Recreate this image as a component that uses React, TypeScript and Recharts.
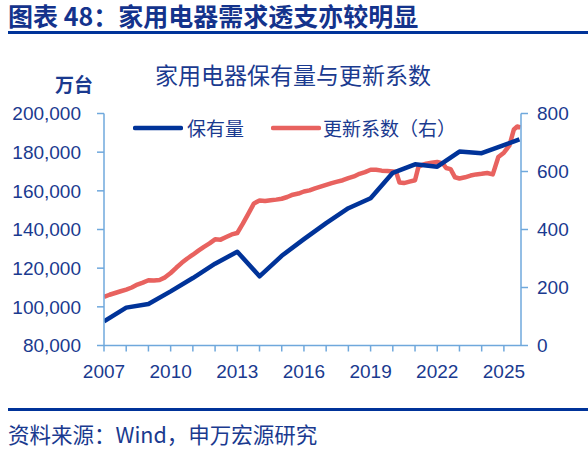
import React from 'react';
import { LineChart, Line, XAxis, YAxis } from 'recharts';

// 保有量 (万台), annual
const stockX = [2007, 2008, 2009, 2010, 2011, 2012, 2013, 2014, 2015, 2016, 2017, 2018, 2019, 2020, 2021, 2022, 2023, 2024, 2025, 2025.7];
const stockValues = [92500, 99600, 101500, 108000, 114900, 122300, 128500, 115800, 126400, 135000, 143300, 151000, 156200, 169300, 173700, 172500, 180300, 179500, 183700, 186600];

// 更新系数 (右轴)
const renewX = [
  2007, 2007.25, 2007.5, 2007.75, 2008, 2008.25, 2008.5, 2008.75,
  2009, 2009.25, 2009.5, 2009.75, 2010, 2010.25, 2010.5, 2010.75,
  2011, 2011.25, 2011.5, 2011.75, 2012, 2012.25, 2012.5, 2012.75,
  2013, 2013.25, 2013.5, 2013.75, 2014, 2014.25, 2014.5, 2014.75,
  2015, 2015.25, 2015.5, 2015.75, 2016, 2016.25, 2016.5, 2016.75,
  2017, 2017.25, 2017.5, 2017.75, 2018, 2018.25, 2018.5, 2018.75,
  2019, 2019.25, 2019.5, 2019.75, 2020, 2020.15, 2020.3, 2020.5, 2020.75,
  2021, 2021.15, 2021.3, 2021.5, 2021.75, 2022, 2022.25, 2022.4, 2022.6, 2022.8,
  2023, 2023.25, 2023.5, 2023.75, 2024, 2024.25, 2024.5, 2024.75,
  2025, 2025.25, 2025.45, 2025.6, 2025.75,
];
const renewValues = [
  168, 175, 181, 187, 193, 200, 210, 217,
  225, 224, 226, 235, 250, 268, 285, 300,
  313, 327, 340, 352, 366, 365, 374, 383,
  388, 420, 455, 490, 500, 498, 501, 503,
  506, 512, 520, 524, 531, 535, 542, 548,
  554, 560, 565, 570, 577, 583, 592, 598,
  606, 606, 603, 602, 600, 598, 562, 560, 565,
  570, 615, 622, 627, 630, 633, 628, 612, 608, 580,
  576, 580, 586, 590, 592, 595, 590, 650,
  665, 690, 745, 755, 752,
];

const yearTicks = [2007, 2008, 2009, 2010, 2011, 2012, 2013, 2014, 2015, 2016, 2017, 2018, 2019, 2020, 2021, 2022, 2023, 2024, 2025];
const labelYears = [2007, 2010, 2013, 2016, 2019, 2022, 2025];
const leftTicks = [80000, 100000, 120000, 140000, 160000, 180000, 200000];
const rightTicks = [0, 200, 400, 600, 800];

const NAVY = '#003399';
const RED = '#E8625F';
const AXIS = '#6FA8DC';
const TEXT = '#1A3A8F';
const CJK = '"Noto Sans CJK SC", "Noto Sans", sans-serif';
const NUM = '"Liberation Sans", Arial, sans-serif';

type Row = { x: number; stock?: number; renew?: number };
const rows: Row[] = (() => {
  const m = new Map<number, Row>();
  stockX.forEach((x, i) => {
    const r = m.get(x) || { x };
    r.stock = stockValues[i];
    m.set(x, r);
  });
  renewX.forEach((x, i) => {
    const r = m.get(x) || { x };
    r.renew = renewValues[i];
    m.set(x, r);
  });
  return Array.from(m.values()).sort((a, b) => a.x - b.x);
})();

const tickStyle = { fill: TEXT, fontSize: 19, fontFamily: NUM };

export default function App() {
  return (
    <div style={{ position: 'absolute', left: 0, top: 0, width: 588, height: 450, background: '#fff', overflow: 'hidden' }}>
      <div style={{ position: 'absolute', left: 8, top: 2, fontFamily: CJK, fontWeight: 700, fontSize: 25, lineHeight: '27px', color: '#14338C', whiteSpace: 'nowrap' }}>
        图表 48：家用电器需求透支亦较明显
      </div>
      <div style={{ position: 'absolute', left: 8, top: 31, width: 580, height: 3, background: NAVY }} />
      <div style={{ position: 'absolute', left: 0, width: 586, top: 62, textAlign: 'center', fontFamily: CJK, fontSize: 23, lineHeight: '24px', color: TEXT, whiteSpace: 'nowrap' }}>
        家用电器保有量与更新系数
      </div>
      <div style={{ position: 'absolute', left: 55, top: 74, fontFamily: CJK, fontWeight: 700, fontSize: 19, lineHeight: '20px', color: TEXT }}>
        万台
      </div>
      <div style={{ position: 'absolute', left: 0, top: 0 }}>
        <LineChart width={588} height={450} data={rows} margin={{ top: 113.5, right: 0, bottom: 74.5, left: 0 }}>
          <XAxis
            dataKey="x"
            type="number"
            domain={[2007, 2025.77]}
            allowDataOverflow
            ticks={yearTicks}
            interval={0}
            tickFormatter={(v: number) => (labelYears.includes(v) ? String(v) : '')}
            tick={tickStyle}
            tickSize={6}
            tickMargin={13}
            height={30}
            axisLine={{ stroke: AXIS, strokeWidth: 1.5 }}
            tickLine={{ stroke: AXIS, strokeWidth: 1.5 }}
          />
          <YAxis
            yAxisId="left"
            domain={[80000, 200000]}
            ticks={leftTicks}
            interval={0}
            tickFormatter={(v: number) => v.toLocaleString('en-US')}
            tick={tickStyle}
            tickSize={7}
            tickMargin={16}
            width={104}
            axisLine={{ stroke: AXIS, strokeWidth: 1.5 }}
            tickLine={{ stroke: AXIS, strokeWidth: 1.5 }}
          />
          <YAxis
            yAxisId="right"
            orientation="right"
            domain={[0, 800]}
            ticks={rightTicks}
            interval={0}
            tick={tickStyle}
            tickSize={7}
            tickMargin={9}
            width={67}
            axisLine={{ stroke: AXIS, strokeWidth: 1.5 }}
            tickLine={{ stroke: AXIS, strokeWidth: 1.5 }}
          />
          <Line yAxisId="right" dataKey="renew" stroke={RED} strokeWidth={4.5} dot={false} connectNulls isAnimationActive={false} strokeLinejoin="round" />
          <Line yAxisId="left" dataKey="stock" stroke={NAVY} strokeWidth={4.5} dot={false} connectNulls isAnimationActive={false} strokeLinejoin="round" />
        </LineChart>
      </div>
      <div style={{ position: 'absolute', left: 133, top: 116, display: 'flex', alignItems: 'center', fontFamily: CJK, fontSize: 19, color: TEXT, whiteSpace: 'nowrap', lineHeight: '24px' }}>
        <svg width={50} height={8} style={{ display: 'block' }}><line x1={2} y1={4} x2={48} y2={4} stroke={NAVY} strokeWidth={4.5} strokeLinecap="round" /></svg>
        <span style={{ marginLeft: 4 }}>保有量</span>
        <svg width={50} height={8} style={{ display: 'block', marginLeft: 27 }}><line x1={2} y1={4} x2={48} y2={4} stroke={RED} strokeWidth={4.5} strokeLinecap="round" /></svg>
        <span style={{ marginLeft: 2 }}>更新系数（右）</span>
      </div>
      <div style={{ position: 'absolute', left: 8, top: 408, width: 580, height: 3, background: NAVY }} />
      <div style={{ position: 'absolute', left: 8, top: 423, fontFamily: CJK, fontSize: 21.5, lineHeight: '22px', color: TEXT, whiteSpace: 'nowrap' }}>
        资料来源：Wind，申万宏源研究
      </div>
    </div>
  );
}
